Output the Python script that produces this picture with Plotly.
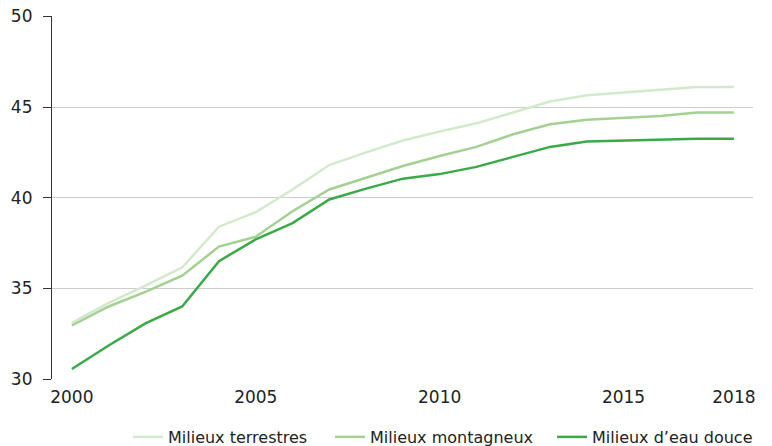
import plotly.graph_objects as go

years = list(range(2000, 2019))
terrestres = [33.1, 34.2, 35.15, 36.15, 38.4, 39.2, 40.45, 41.8, 42.5, 43.15, 43.65, 44.1, 44.7, 45.3, 45.65, 45.8, 45.95, 46.1, 46.1]
montagneux = [32.95, 34.0, 34.8, 35.7, 37.3, 37.85, 39.25, 40.45, 41.1, 41.75, 42.3, 42.8, 43.5, 44.05, 44.3, 44.4, 44.5, 44.7, 44.7]
eau_douce = [30.55, 31.85, 33.07, 34.0, 36.5, 37.7, 38.6, 39.9, 40.5, 41.05, 41.3, 41.7, 42.25, 42.8, 43.1, 43.15, 43.2, 43.25, 43.25]

series_names = ["Milieux terrestres", "Milieux montagneux", "Milieux d\u2019eau douce"]
series_values = [terrestres, montagneux, eau_douce]
colors = ["#d3e9cc", "#a2d192", "#3aaa48"]
legend_widths = [157, 177, 160]

x_ticks = [2000, 2005, 2010, 2015, 2018]
y_ticks = [30, 35, 40, 45, 50]

fig = go.Figure()
for name, vals, c, lw in zip(series_names, series_values, colors, legend_widths):
    fig.add_trace(go.Scatter(x=years, y=vals, mode="lines", name=name,
                             legendwidth=lw,
                             line=dict(color=c, width=2.5)))

font = "'DejaVu Sans', sans-serif"
fig.update_layout(
    width=772, height=446,
    margin=dict(l=52, r=19, t=16, b=67, autoexpand=False),
    plot_bgcolor="white", paper_bgcolor="white",
    font=dict(family=font, size=16, color="#222222"),
    showlegend=True,
    legend=dict(orientation="h", x=0.1084, xanchor="left", xref="paper",
                y=0.0202, yanchor="middle", yref="container",
                font=dict(size=16, color="#222222"), traceorder="normal",
                bgcolor="rgba(0,0,0,0)"),
    xaxis=dict(range=[1999.46, 2018.52], tickvals=x_ticks, showgrid=False,
               zeroline=False, showline=False, ticks="", automargin=False,
               ticklabelstandoff=6, ticklabeloverflow="allow", tickfont=dict(size=17)),
    yaxis=dict(range=[30, 50.02], tickvals=y_ticks, showgrid=True, gridcolor="#cccccc",
               gridwidth=1, zeroline=False, showline=True, linecolor="#333333",
               linewidth=1.2, ticks="outside", ticklen=8, tickcolor="#333333",
               ticklabelstandoff=7, ticklabeloverflow="allow", automargin=False,
               tickfont=dict(size=17)),
)

fig.write_html("out.html", config={"displayModeBar": False},
               post_script="document.body.style.margin='0px';")
